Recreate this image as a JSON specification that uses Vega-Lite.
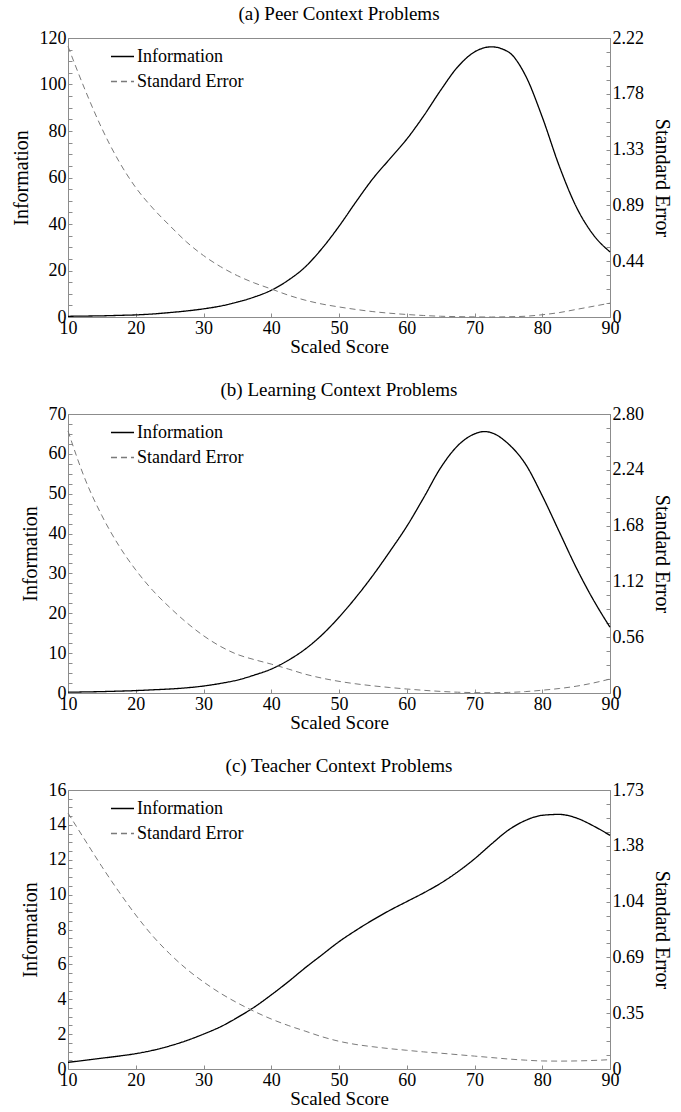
{
  "$schema": "https://vega.github.io/schema/vega-lite/v6.json",
  "background": "white",
  "padding": {"left": 10, "top": 4, "right": 0, "bottom": 0},
  "datasets": {
    "a": [
      {"x": 10, "info": 0.3, "se": 2.153},
      {"x": 12.5, "info": 0.4, "se": 1.81},
      {"x": 15, "info": 0.5, "se": 1.5},
      {"x": 17.5, "info": 0.7, "se": 1.24},
      {"x": 20, "info": 0.9, "se": 1.03},
      {"x": 22.5, "info": 1.3, "se": 0.867},
      {"x": 25, "info": 1.9, "se": 0.728},
      {"x": 27.5, "info": 2.6, "se": 0.597},
      {"x": 30, "info": 3.5, "se": 0.489},
      {"x": 32.5, "info": 4.7, "se": 0.401},
      {"x": 35, "info": 6.4, "se": 0.329},
      {"x": 37.5, "info": 8.6, "se": 0.271},
      {"x": 40, "info": 11.5, "se": 0.223},
      {"x": 42.5, "info": 15.8, "se": 0.174},
      {"x": 45, "info": 21.5, "se": 0.134},
      {"x": 47.5, "info": 29.5, "se": 0.103},
      {"x": 50, "info": 39, "se": 0.08},
      {"x": 52.5, "info": 49.5, "se": 0.06},
      {"x": 55, "info": 59.5, "se": 0.043},
      {"x": 57.5, "info": 68, "se": 0.03},
      {"x": 60, "info": 76.5, "se": 0.02},
      {"x": 62.5, "info": 86.5, "se": 0.012},
      {"x": 65, "info": 97.5, "se": 0.006},
      {"x": 67.5, "info": 107.5, "se": 0.003},
      {"x": 70, "info": 114, "se": 0.001},
      {"x": 72.5, "info": 116.2, "se": 0.0},
      {"x": 75, "info": 114, "se": 0.002},
      {"x": 77.5, "info": 104, "se": 0.006},
      {"x": 80, "info": 86, "se": 0.018},
      {"x": 82.5, "info": 65, "se": 0.035},
      {"x": 85, "info": 47.5, "se": 0.06},
      {"x": 87.5, "info": 35.5, "se": 0.085},
      {"x": 90, "info": 28, "se": 0.11}
    ],
    "b": [
      {"x": 10, "info": 0.2, "se": 2.63},
      {"x": 12.5, "info": 0.27, "se": 2.15},
      {"x": 15, "info": 0.35, "se": 1.78},
      {"x": 17.5, "info": 0.47, "se": 1.48},
      {"x": 20, "info": 0.6, "se": 1.235},
      {"x": 22.5, "info": 0.8, "se": 1.03},
      {"x": 25, "info": 1.0, "se": 0.86},
      {"x": 27.5, "info": 1.3, "se": 0.707},
      {"x": 30, "info": 1.75, "se": 0.575},
      {"x": 32.5, "info": 2.4, "se": 0.468},
      {"x": 35, "info": 3.25, "se": 0.387},
      {"x": 37.5, "info": 4.5, "se": 0.335},
      {"x": 40, "info": 6.0, "se": 0.29},
      {"x": 42.5, "info": 8.2, "se": 0.241},
      {"x": 45, "info": 11, "se": 0.189},
      {"x": 47.5, "info": 14.6, "se": 0.149},
      {"x": 50, "info": 19, "se": 0.117},
      {"x": 52.5, "info": 24, "se": 0.092},
      {"x": 55, "info": 29.5, "se": 0.072},
      {"x": 57.5, "info": 35.5, "se": 0.055},
      {"x": 60, "info": 41.8, "se": 0.04},
      {"x": 62.5, "info": 49, "se": 0.027},
      {"x": 65, "info": 56.5, "se": 0.016},
      {"x": 67.5, "info": 62, "se": 0.008},
      {"x": 70, "info": 65, "se": 0.004},
      {"x": 71.5, "info": 65.6, "se": 0.003},
      {"x": 72.5, "info": 65.3, "se": 0.003},
      {"x": 75, "info": 62.5, "se": 0.006},
      {"x": 77.5, "info": 57.5, "se": 0.014},
      {"x": 80, "info": 49.5, "se": 0.028},
      {"x": 82.5, "info": 40.5, "se": 0.045},
      {"x": 85, "info": 31.5, "se": 0.068},
      {"x": 87.5, "info": 23.5, "se": 0.1},
      {"x": 90, "info": 16.5, "se": 0.14}
    ],
    "c": [
      {"x": 10, "info": 0.38, "se": 1.587},
      {"x": 12.5, "info": 0.5, "se": 1.42},
      {"x": 15, "info": 0.62, "se": 1.255},
      {"x": 17.5, "info": 0.74, "se": 1.1},
      {"x": 20, "info": 0.88, "se": 0.955},
      {"x": 22.5, "info": 1.07, "se": 0.825},
      {"x": 25, "info": 1.32, "se": 0.715},
      {"x": 27.5, "info": 1.63, "se": 0.62},
      {"x": 30, "info": 2.0, "se": 0.54},
      {"x": 32.5, "info": 2.42, "se": 0.47},
      {"x": 35, "info": 2.95, "se": 0.41},
      {"x": 37.5, "info": 3.55, "se": 0.357},
      {"x": 40, "info": 4.25, "se": 0.31},
      {"x": 42.5, "info": 5.0, "se": 0.27},
      {"x": 45, "info": 5.8, "se": 0.235},
      {"x": 47.5, "info": 6.55, "se": 0.2},
      {"x": 50, "info": 7.3, "se": 0.172},
      {"x": 52.5, "info": 7.95, "se": 0.152},
      {"x": 55, "info": 8.55, "se": 0.138},
      {"x": 57.5, "info": 9.1, "se": 0.126},
      {"x": 60, "info": 9.6, "se": 0.116},
      {"x": 62.5, "info": 10.1, "se": 0.106},
      {"x": 65, "info": 10.65, "se": 0.098},
      {"x": 67.5, "info": 11.3, "se": 0.089},
      {"x": 70, "info": 12.05, "se": 0.08},
      {"x": 72.5, "info": 12.9, "se": 0.071},
      {"x": 75, "info": 13.7, "se": 0.062},
      {"x": 77.5, "info": 14.25, "se": 0.055},
      {"x": 80, "info": 14.55, "se": 0.05},
      {"x": 82.5, "info": 14.6, "se": 0.049},
      {"x": 85, "info": 14.4, "se": 0.05},
      {"x": 87.5, "info": 13.95, "se": 0.053},
      {"x": 90, "info": 13.4, "se": 0.058}
    ]
  },
  "vconcat": [
    {
      "title": {"text": "(a) Peer Context Problems"},
      "width": 542, "height": 279,
      "data": {"name": "a"},
      "layer": [
        {
          "mark": {"type": "line", "strokeWidth": 1.3, "interpolate": "monotone"},
          "encoding": {
            "x": {"field": "x", "type": "quantitative", "scale": {"domain": [10, 90], "nice": false},
              "axis": {"title": "Scaled Score", "values": [10,12.5,15,17.5,20,22.5,25,27.5,30,32.5,35,37.5,40,42.5,45,47.5,50,52.5,55,57.5,60,62.5,65,67.5,70,72.5,75,77.5,80,82.5,85,87.5,90], "labelExpr": "datum.value % 10 === 0 ? format(datum.value, 'd') : ''"}},
            "y": {"field": "info", "type": "quantitative", "scale": {"domain": [0, 120], "nice": false},
              "axis": {"title": "Information", "values": [0,5,10,15,20,25,30,35,40,45,50,55,60,65,70,75,80,85,90,95,100,105,110,115,120], "labelExpr": "datum.value % 20 === 0 ? format(datum.value, 'd') : ''"}},
            "color": {"datum": "Information", "type": "nominal", "scale": {"domain": ["Information", "Standard Error"], "range": ["#000000", "#7a7a7a"]},
              "legend": {"title": null, "orient": "none", "legendX": 42, "legendY": 6}},
            "strokeDash": {"datum": "Information", "type": "nominal", "scale": {"domain": ["Information", "Standard Error"], "range": [[1, 0], [6, 4]]},
              "legend": {"title": null, "orient": "none", "legendX": 42, "legendY": 6}}
          }
        },
        {
          "mark": {"type": "line", "strokeWidth": 1, "interpolate": "monotone"},
          "encoding": {
            "x": {"field": "x", "type": "quantitative"},
            "y": {"field": "se", "type": "quantitative", "scale": {"domain": [0, 2.22], "nice": false},
              "axis": {"orient": "right", "title": "Standard Error", "values": [0,0.111,0.222,0.333,0.444,0.555,0.666,0.777,0.888,0.999,1.11,1.221,1.332,1.443,1.554,1.665,1.776,1.887,1.998,2.109,2.22],
                "labelExpr": "abs(datum.value/0.444 - round(datum.value/0.444)) < 0.01 ? (datum.value === 0 ? '0' : format(datum.value, '.2f')) : ''"}},
            "color": {"datum": "Standard Error", "type": "nominal"},
            "strokeDash": {"datum": "Standard Error", "type": "nominal"}
          }
        }
      ],
      "resolve": {"scale": {"y": "independent"}}
    },
    {
      "title": {"text": "(b) Learning Context Problems"},
      "width": 542, "height": 279,
      "data": {"name": "b"},
      "layer": [
        {
          "mark": {"type": "line", "strokeWidth": 1.3, "interpolate": "monotone"},
          "encoding": {
            "x": {"field": "x", "type": "quantitative", "scale": {"domain": [10, 90], "nice": false},
              "axis": {"title": "Scaled Score", "values": [10,12.5,15,17.5,20,22.5,25,27.5,30,32.5,35,37.5,40,42.5,45,47.5,50,52.5,55,57.5,60,62.5,65,67.5,70,72.5,75,77.5,80,82.5,85,87.5,90], "labelExpr": "datum.value % 10 === 0 ? format(datum.value, 'd') : ''"}},
            "y": {"field": "info", "type": "quantitative", "scale": {"domain": [0, 70], "nice": false},
              "axis": {"title": "Information", "values": [0,2.5,5,7.5,10,12.5,15,17.5,20,22.5,25,27.5,30,32.5,35,37.5,40,42.5,45,47.5,50,52.5,55,57.5,60,62.5,65,67.5,70], "labelExpr": "datum.value % 10 === 0 ? format(datum.value, 'd') : ''"}},
            "color": {"datum": "Information", "type": "nominal", "scale": {"domain": ["Information", "Standard Error"], "range": ["#000000", "#7a7a7a"]},
              "legend": {"title": null, "orient": "none", "legendX": 42, "legendY": 6}},
            "strokeDash": {"datum": "Information", "type": "nominal", "scale": {"domain": ["Information", "Standard Error"], "range": [[1, 0], [6, 4]]},
              "legend": {"title": null, "orient": "none", "legendX": 42, "legendY": 6}}
          }
        },
        {
          "mark": {"type": "line", "strokeWidth": 1, "interpolate": "monotone"},
          "encoding": {
            "x": {"field": "x", "type": "quantitative"},
            "y": {"field": "se", "type": "quantitative", "scale": {"domain": [0, 2.8], "nice": false},
              "axis": {"orient": "right", "title": "Standard Error", "values": [0,0.14,0.28,0.42,0.56,0.7,0.84,0.98,1.12,1.26,1.4,1.54,1.68,1.82,1.96,2.1,2.24,2.38,2.52,2.66,2.8],
                "labelExpr": "abs(datum.value/0.56 - round(datum.value/0.56)) < 0.01 ? (datum.value === 0 ? '0' : format(datum.value, '.2f')) : ''"}},
            "color": {"datum": "Standard Error", "type": "nominal"},
            "strokeDash": {"datum": "Standard Error", "type": "nominal"}
          }
        }
      ],
      "resolve": {"scale": {"y": "independent"}}
    },
    {
      "title": {"text": "(c) Teacher Context Problems"},
      "width": 542, "height": 279,
      "data": {"name": "c"},
      "layer": [
        {
          "mark": {"type": "line", "strokeWidth": 1.3, "interpolate": "monotone"},
          "encoding": {
            "x": {"field": "x", "type": "quantitative", "scale": {"domain": [10, 90], "nice": false},
              "axis": {"title": "Scaled Score", "values": [10,12.5,15,17.5,20,22.5,25,27.5,30,32.5,35,37.5,40,42.5,45,47.5,50,52.5,55,57.5,60,62.5,65,67.5,70,72.5,75,77.5,80,82.5,85,87.5,90], "labelExpr": "datum.value % 10 === 0 ? format(datum.value, 'd') : ''"}},
            "y": {"field": "info", "type": "quantitative", "scale": {"domain": [0, 16], "nice": false},
              "axis": {"title": "Information", "values": [0,0.5,1,1.5,2,2.5,3,3.5,4,4.5,5,5.5,6,6.5,7,7.5,8,8.5,9,9.5,10,10.5,11,11.5,12,12.5,13,13.5,14,14.5,15,15.5,16], "labelExpr": "datum.value % 2 === 0 ? format(datum.value, 'd') : ''"}},
            "color": {"datum": "Information", "type": "nominal", "scale": {"domain": ["Information", "Standard Error"], "range": ["#000000", "#7a7a7a"]},
              "legend": {"title": null, "orient": "none", "legendX": 42, "legendY": 6}},
            "strokeDash": {"datum": "Information", "type": "nominal", "scale": {"domain": ["Information", "Standard Error"], "range": [[1, 0], [6, 4]]},
              "legend": {"title": null, "orient": "none", "legendX": 42, "legendY": 6}}
          }
        },
        {
          "mark": {"type": "line", "strokeWidth": 1, "interpolate": "monotone"},
          "encoding": {
            "x": {"field": "x", "type": "quantitative"},
            "y": {"field": "se", "type": "quantitative", "scale": {"domain": [0, 1.73], "nice": false},
              "axis": {"orient": "right", "title": "Standard Error", "values": [0,0.0865,0.173,0.2595,0.346,0.4325,0.519,0.6055,0.692,0.7785,0.865,0.9515,1.038,1.1245,1.211,1.2975,1.384,1.4705,1.557,1.6435,1.73],
                "labelExpr": "abs(datum.value/0.346 - round(datum.value/0.346)) < 0.01 ? (datum.value === 0 ? '0' : format(datum.value, '.2f')) : ''"}},
            "color": {"datum": "Standard Error", "type": "nominal"},
            "strokeDash": {"datum": "Standard Error", "type": "nominal"}
          }
        }
      ],
      "resolve": {"scale": {"y": "independent"}}
    }
  ],
  "resolve": {"scale": {"color": "independent", "strokeDash": "independent"}},
  "spacing": 23,
  "config": {
    "font": "Liberation Serif",
    "view": {"stroke": "#8c8c8c", "strokeWidth": 1},
    "title": {"font": "Liberation Serif", "fontSize": 19, "fontWeight": "normal", "color": "#000", "offset": 5, "frame": "group", "anchor": "middle"},
    "axis": {
      "labelFont": "Liberation Serif", "labelFontSize": 18, "labelColor": "#000",
      "titleFont": "Liberation Serif", "titleFontSize": 19, "titleFontWeight": "normal", "titleColor": "#000",
      "domainColor": "#8c8c8c", "tickColor": "#8c8c8c", "tickSize": -4, "labelPadding": 6,
      "grid": false, "labelFlush": false, "labelOverlap": false
    },
    "axisX": {"titlePadding": 0},
    "axisLeft": {"titlePadding": 8, "titleFontSize": 20},
    "axisRight": {"titlePadding": 8, "titleFontSize": 20},
    "legend": {
      "labelFont": "Liberation Serif", "labelFontSize": 18, "labelColor": "#000",
      "symbolType": "stroke", "symbolSize": 530, "symbolStrokeWidth": 1.3,
      "rowPadding": 3, "labelOffset": 2, "padding": 0
    },
    "line": {"strokeCap": "butt"}
  }
}
